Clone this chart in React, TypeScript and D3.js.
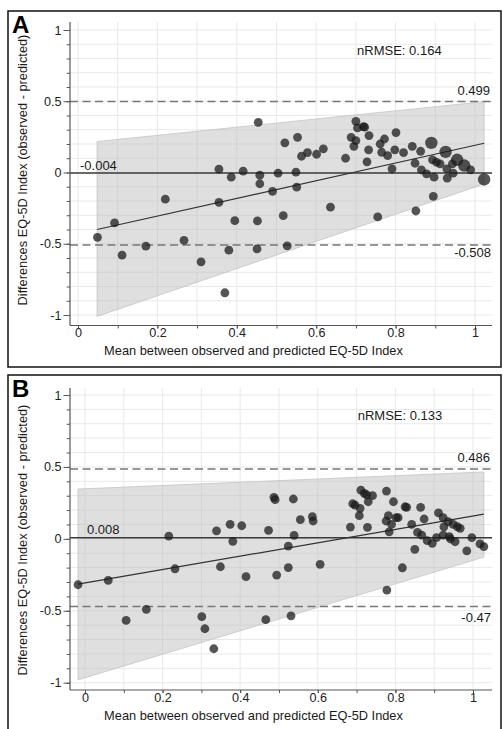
import * as d3 from 'd3'
import { useEffect, useRef } from 'react'

// Panel A values (mean of observed & predicted, difference, marker size)
const pointsA: [number, number, number][] = [
  [0.049, -0.455, 1], [0.092, -0.354, 1], [0.111, -0.58, 1], [0.171, -0.517, 1],
  [0.22, -0.187, 1], [0.267, -0.476, 1], [0.31, -0.627, 1], [0.355, 0.023, 1],
  [0.355, -0.21, 1], [0.37, -0.844, 1], [0.38, -0.545, 1], [0.386, -0.033, 1],
  [0.395, -0.338, 1], [0.416, 0.009, 1], [0.451, -0.536, 1], [0.452, -0.34, 1],
  [0.454, 0.352, 1], [0.458, -0.019, 1], [0.458, -0.079, 1], [0.49, -0.133, 1],
  [0.504, -0.005, 1], [0.517, -0.303, 1], [0.521, 0.208, 1], [0.527, -0.515, 1],
  [0.549, 0.002, 1], [0.551, -0.103, 1], [0.553, 0.247, 1], [0.563, 0.114, 1],
  [0.578, 0.14, 1], [0.601, 0.128, 1], [0.618, 0.166, 1], [0.636, -0.243, 1],
  [0.674, 0.1, 1], [0.688, 0.247, 1], [0.695, 0.184, 1], [0.7, 0.359, 1],
  [0.7, 0.224, 1], [0.704, 0.313, 1], [0.719, 0.322, 1], [0.722, 0.318, 1],
  [0.728, 0.075, 1], [0.732, 0.159, 1], [0.733, 0.259, 1], [0.755, -0.312, 1],
  [0.761, 0.2, 1], [0.765, 0.142, 1], [0.772, 0.235, 1], [0.78, 0.119, 1],
  [0.791, 0.026, 1], [0.798, 0.159, 1], [0.801, 0.28, 1], [0.82, 0.14, 1],
  [0.842, 0.184, 1], [0.849, 0.065, 1], [0.851, -0.27, 1], [0.863, 0.149, 1],
  [0.865, 0.019, 1], [0.878, -0.009, 1], [0.89, 0.208, 2], [0.893, 0.089, 1],
  [0.895, -0.168, 1], [0.897, -0.033, 1], [0.903, 0.072, 1], [0.912, 0.061, 1],
  [0.926, 0.145, 2], [0.929, 0.026, 1], [0.93, -0.04, 1], [0.943, 0.061, 1],
  [0.945, -0.005, 1], [0.955, 0.089, 2], [0.973, 0.049, 2], [0.989, 0.019, 1],
  [1.023, -0.049, 2],
]

// Panel B values
const pointsB: [number, number, number][] = [
  [-0.018, -0.319, 1], [0.06, -0.289, 1], [0.106, -0.567, 1], [0.158, -0.49, 1],
  [0.216, 0.019, 1], [0.232, -0.208, 1], [0.301, -0.541, 1], [0.309, -0.625, 1],
  [0.332, -0.764, 1], [0.339, 0.056, 1], [0.349, -0.194, 1], [0.374, 0.101, 1],
  [0.381, -0.017, 1], [0.404, 0.091, 1], [0.415, -0.263, 1], [0.466, -0.562, 1],
  [0.473, 0.059, 1], [0.487, 0.289, 1], [0.49, 0.272, 1], [0.494, -0.252, 1],
  [0.524, -0.05, 1], [0.524, -0.2, 1], [0.531, -0.535, 1], [0.537, 0.277, 1],
  [0.539, 0.024, 1], [0.555, 0.133, 1], [0.586, 0.154, 1], [0.588, 0.124, 1],
  [0.606, -0.177, 1], [0.684, 0.082, 1], [0.69, 0.244, 1], [0.696, 0.235, 1],
  [0.707, 0.161, 1], [0.709, 0.212, 1], [0.711, 0.339, 1], [0.72, 0.316, 1],
  [0.726, 0.305, 1], [0.728, 0.08, 1], [0.73, 0.258, 1], [0.741, 0.3, 1],
  [0.776, 0.124, 1], [0.777, 0.332, 1], [0.778, -0.356, 1], [0.782, 0.161, 1],
  [0.784, 0.049, 1], [0.79, 0.101, 1], [0.795, 0.258, 1], [0.802, 0.147, 1],
  [0.807, 0.147, 1], [0.818, -0.201, 1], [0.825, 0.223, 1], [0.829, 0.219, 1],
  [0.842, 0.101, 1], [0.85, -0.073, 1], [0.857, 0.045, 1], [0.865, 0.219, 1],
  [0.868, 0.026, 1], [0.874, 0.138, 1], [0.882, -0.013, 1], [0.895, -0.031, 1],
  [0.906, 0.008, 1], [0.911, 0.181, 1], [0.923, 0.147, 1], [0.923, 0.026, 1],
  [0.925, 0.084, 1], [0.936, 0.119, 1], [0.939, 0.015, 1], [0.942, -0.001, 1],
  [0.949, 0.101, 1], [0.954, -0.02, 1], [0.96, 0.084, 1], [0.967, 0.073, 1],
  [0.984, -0.083, 1], [0.997, 0.008, 1], [1.018, -0.035, 1], [1.028, -0.054, 1],
]

// bias / limits of agreement / nRMSE
const meanDiff = [-0.004, 0.008]
const upperLoA = [0.499, 0.486]
const lowerLoA = [-0.508, -0.47]
const nrmse = [0.164, 0.133]

// shaded band and regression line (x at both ends, then y values)
const bandX = [[0.048, 1.023], [-0.018, 1.028]]
const bandUpper = [[0.217, 0.497], [0.346, 0.465]]
const bandLower = [[-1.01, -0.08], [-0.98, -0.127]]
const regLine = [[-0.4, 0.205], [-0.315, 0.172]]

const letters = ['A', 'B']
const yMajor = [-1, -0.5, 0, 0.5, 1]
const xMajor = [0, 0.2, 0.4, 0.6, 0.8, 1]
const minorStep = d3.range(-10, 11).map((d) => d / 10)
const xMinor = d3.range(0, 11).map((d) => d / 10)

const FONT = '"Liberation Sans", Arial, Helvetica, sans-serif'

// pixel layout of each panel
const layout = [
  { box: [8, 11, 501, 367], xr: [78, 475], yr: [315, 30], plot: [70, 22, 492, 325.5], yTitle: 170, lowDy: 12 },
  { box: [8, 375, 501, 745], xr: [85, 473], yr: [682.7, 395], plot: [70, 388, 492, 690], yTitle: 540, lowDy: 16 },
]

export default function App() {
  const svgRef = useRef<SVGSVGElement>(null)

  useEffect(() => {
    if (!svgRef.current) return
    const svg = d3.select(svgRef.current)
    svg.selectAll('*').remove()

    svg.append('rect').attr('width', 503).attr('height', 729).attr('fill', '#fff')

    const allPoints = [pointsA, pointsB]

    layout.forEach((L, p) => {
      const g = svg.append('g')
      const x = d3.scaleLinear().domain([0, 1]).range(L.xr)
      const y = d3.scaleLinear().domain([-1, 1]).range(L.yr)
      const [px0, py0, px1, py1] = L.plot

      // grid
      g.append('g')
        .selectAll('line')
        .data(xMinor)
        .join('line')
        .attr('x1', (d) => x(d)).attr('x2', (d) => x(d))
        .attr('y1', py0).attr('y2', py1)
        .attr('stroke', '#e9e9e9').attr('stroke-width', 1)
      g.append('g')
        .selectAll('line')
        .data(minorStep)
        .join('line')
        .attr('x1', px0).attr('x2', px1)
        .attr('y1', (d) => y(d)).attr('y2', (d) => y(d))
        .attr('stroke', '#e9e9e9').attr('stroke-width', 1)

      // band
      const bandData = bandX[p].map((bx, i) => ({ x: bx, lo: bandLower[p][i], hi: bandUpper[p][i] }))
      const area = d3.area<any>().x((d) => x(d.x)).y0((d) => y(d.lo)).y1((d) => y(d.hi))
      g.append('path')
        .datum(bandData)
        .attr('d', area)
        .attr('fill', '#b8b8b8')
        .attr('fill-opacity', 0.45)
        .attr('stroke', '#c4c4c4')
        .attr('stroke-width', 0.8)

      // reference lines
      g.append('line')
        .attr('x1', px0).attr('x2', px1)
        .attr('y1', y(meanDiff[p])).attr('y2', y(meanDiff[p]))
        .attr('stroke', '#3a3a3a').attr('stroke-width', 1.6)
      ;[upperLoA[p], lowerLoA[p]].forEach((v) => {
        g.append('line')
          .attr('x1', px0).attr('x2', px1)
          .attr('y1', y(v)).attr('y2', y(v))
          .attr('stroke', '#777').attr('stroke-width', 1.5)
          .attr('stroke-dasharray', '8,4.5')
      })

      // regression line
      const line = d3.line<number>().x((d, i) => x(bandX[p][i])).y((d) => y(d))
      g.append('path')
        .datum(regLine[p])
        .attr('d', line)
        .attr('fill', 'none')
        .attr('stroke', '#333')
        .attr('stroke-width', 1.2)

      // points
      g.append('g')
        .selectAll('circle')
        .data(allPoints[p])
        .join('circle')
        .attr('cx', (d) => x(d[0]))
        .attr('cy', (d) => y(d[1]))
        .attr('r', (d) => (d[2] > 1 ? 6.2 : 4.4))
        .attr('fill', '#1a1a1a')
        .attr('fill-opacity', 0.74)

      // axes
      const yAxis = g.append('g').attr('transform', `translate(${px0},0)`)
      yAxis.call(
        d3.axisLeft(y).tickValues(minorStep).tickSize(3.3).tickFormat(() => '').tickSizeOuter(0)
      )
      yAxis.append('g').call(
        d3.axisLeft(y).tickValues(yMajor).tickSize(6.5).tickPadding(2).tickFormat((d) => String(d)).tickSizeOuter(0)
      )
      const xAxis = g.append('g').attr('transform', `translate(0,${py1})`)
      xAxis.call(
        d3.axisBottom(x).tickValues(xMinor).tickSize(3).tickFormat(() => '').tickSizeOuter(0)
      )
      xAxis.append('g').call(
        d3.axisBottom(x).tickValues(xMajor).tickSize(3).tickPadding(0).tickFormat((d) => String(d)).tickSizeOuter(0)
      )
      g.selectAll('.domain').remove()
      g.selectAll('.tick line').attr('stroke', '#555')
      g.selectAll('.tick text').attr('fill', '#222').style('font-size', '12.6px').style('font-family', FONT)
      g.append('line').attr('x1', px0).attr('x2', px0).attr('y1', py0).attr('y2', py1)
        .attr('stroke', '#555').attr('stroke-width', 1.2)
      g.append('line').attr('x1', px0).attr('x2', px1).attr('y1', py1).attr('y2', py1)
        .attr('stroke', '#555').attr('stroke-width', 1.2)

      // labels
      const txt = (tx: number, ty: number, s: string, anchor = 'start', size = 13) =>
        g.append('text')
          .attr('x', tx).attr('y', ty)
          .attr('text-anchor', anchor)
          .style('font-family', FONT)
          .style('font-size', `${size}px`)
          .attr('fill', '#1a1a1a')
          .text(s)

      txt(x(0.005), y(meanDiff[p]) - 3.5, String(meanDiff[p]))
      txt(490, y(upperLoA[p]) - 6.5, String(upperLoA[p]), 'end')
      txt(491, y(lowerLoA[p]) + L.lowDy, String(lowerLoA[p]), 'end')
      txt(x(0.703), y(0.825), `nRMSE: ${nrmse[p]}`)

      // axis titles
      txt(253.5, py1 + 29.5, 'Mean between observed and predicted EQ-5D Index', 'middle', 12.8)
      g.append('text')
        .attr('transform', `translate(27,${L.yTitle}) rotate(-90)`)
        .attr('text-anchor', 'middle')
        .style('font-family', FONT)
        .style('font-size', '12.8px')
        .attr('fill', '#1a1a1a')
        .text('Differences EQ-5D Index (observed - predicted)')

      // panel letter and frame
      g.append('text')
        .attr('x', 12).attr('y', L.box[1] + 22)
        .style('font-family', FONT)
        .style('font-size', '24px')
        .style('font-weight', 'bold')
        .attr('fill', '#000')
        .text(letters[p])
      g.append('rect')
        .attr('x', L.box[0]).attr('y', L.box[1])
        .attr('width', L.box[2] - L.box[0]).attr('height', L.box[3] - L.box[1])
        .attr('fill', 'none')
        .attr('stroke', '#111')
        .attr('stroke-width', 1.5)
    })
  }, [])

  return (
    <svg
      ref={svgRef}
      width={503}
      height={729}
      style={{ position: 'absolute', left: 0, top: 0 }}
    />
  )
}
